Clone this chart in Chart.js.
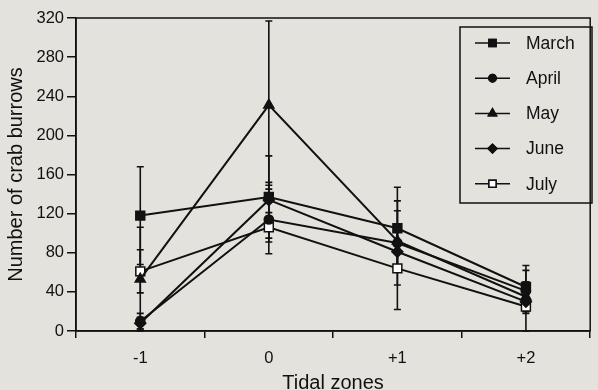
<!DOCTYPE html>
<html>
<head>
<meta charset="utf-8">
<script src="https://cdn.jsdelivr.net/npm/chart.js@4.4.0/dist/chart.umd.min.js"></script>
<style>
  html, body { margin: 0; padding: 0; background: #e3e2dc; }
  #wrap { width: 598px; height: 390px; position: relative; }
</style>
</head>
<body>
<div id="wrap"><canvas id="c" width="598" height="390"></canvas></div>
<script>
const categories = ['-1', '0', '+1', '+2'];
const yTicks = [0, 40, 80, 120, 160, 200, 240, 280, 320];

const march = [118, 137, 105, 45];
const marchSD = [50, 42, 42, 22];
const april = [10, 114, 90, 41];
const aprilSD = [8, 35, 43, 21];
const may = [53, 231, 92, 35];
const maySD = [53, 86, 31, 15];
const june = [8, 134, 81, 30];
const juneSD = [6, 18, 20, 12];
const july = [61, 106, 64, 25];
const julySD = [22, 15, 42, 25];

const FONT = '"Liberation Sans", Arial, sans-serif';
const INK = '#111111';

function ds(label, data, sd, style, radius, fill) {
  return {
    label, data, sd,
    borderColor: INK, borderWidth: 2,
    pointStyle: style, pointRadius: radius, pointHoverRadius: radius,
    pointBackgroundColor: fill, pointBorderColor: INK, pointBorderWidth: 1.5,
    tension: 0, fill: false
  };
}

const errorBars = {
  id: 'errorBars',
  beforeDatasetsDraw(chart) {
    const ctx = chart.ctx, y = chart.scales.y;
    ctx.save();
    ctx.strokeStyle = INK; ctx.lineWidth = 1.6;
    chart.data.datasets.forEach((d, i) => {
      const meta = chart.getDatasetMeta(i);
      meta.data.forEach((pt, j) => {
        const hi = y.getPixelForValue(Math.min(d.data[j] + d.sd[j], 320));
        const lo = y.getPixelForValue(Math.max(d.data[j] - d.sd[j], 0));
        ctx.beginPath();
        ctx.moveTo(pt.x, hi); ctx.lineTo(pt.x, lo);
        ctx.moveTo(pt.x - 3.5, hi); ctx.lineTo(pt.x + 3.5, hi);
        ctx.moveTo(pt.x - 3.5, lo); ctx.lineTo(pt.x + 3.5, lo);
        ctx.stroke();
      });
    });
    ctx.restore();
  }
};

const frameLegend = {
  id: 'frameLegend',
  afterDraw(chart) {
    const ctx = chart.ctx, a = chart.chartArea;
    ctx.save();
    ctx.strokeStyle = INK; ctx.lineWidth = 1.5;
    ctx.strokeRect(a.left, a.top, a.right - a.left, a.bottom - a.top);
    // legend box
    const bx = 460, by = 27, bw = 132, bh = 176;
    ctx.strokeRect(bx, by, bw, bh);
    ctx.font = '17.5px ' + FONT;
    ctx.textBaseline = 'middle';
    ctx.fillStyle = INK;
    chart.data.datasets.forEach((d, i) => {
      const yy = 43 + i * 35.2;
      ctx.beginPath(); ctx.lineWidth = 1.5;
      ctx.moveTo(475, yy); ctx.lineTo(510, yy); ctx.stroke();
      ctx.fillStyle = d.pointBackgroundColor;
      Chart.helpers.drawPoint(ctx, { pointStyle: d.pointStyle, radius: d.pointRadius * 0.8, rotation: 0, borderWidth: 1.2 }, 492.5, yy);
      ctx.fill(); ctx.stroke();
      ctx.fillStyle = INK;
      ctx.fillText(d.label, 526, yy + 1);
    });
    ctx.restore();
  }
};

new Chart(document.getElementById('c'), {
  type: 'line',
  data: {
    labels: categories,
    datasets: [
      ds('March', march, marchSD, 'rect', 6.3, INK),
      ds('April', april, aprilSD, 'circle', 4.6, INK),
      ds('May', may, maySD, 'triangle', 5.8, INK),
      ds('June', june, juneSD, 'rectRot', 5.5, INK),
      ds('July', july, julySD, 'rect', 6.3, '#ffffff')
    ]
  },
  options: {
    responsive: false, animation: false, devicePixelRatio: 1,
    layout: { padding: { top: 18, right: 2, left: 0, bottom: 0 } },
    plugins: { legend: { display: false }, tooltip: { enabled: false } },
    scales: {
      x: {
        type: 'category', offset: true,
        grid: { display: true, offset: true, drawOnChartArea: false, tickLength: 7, color: INK, lineWidth: 1.5 },
        border: { display: true, color: INK, width: 1.5 },
        ticks: { font: { size: 16.5, family: FONT }, color: INK, padding: 11, maxRotation: 0 },
        title: { display: true, text: 'Tidal zones', font: { size: 20, family: FONT, lineHeight: 1 }, color: INK, padding: { top: 0, bottom: -3 } },
        afterFit(s) { s.height = 59; }
      },
      y: {
        min: 0, max: 320,
        afterBuildTicks(s) { s.ticks = yTicks.map(v => ({ value: v })); },
        grid: { display: true, drawOnChartArea: false, tickLength: 9, color: INK, lineWidth: 1.5 },
        border: { display: true, color: INK, width: 1.5 },
        ticks: { font: { size: 16.5, family: FONT }, color: INK, padding: 3 },
        title: { display: true, text: 'Number of crab burrows', font: { size: 20, family: FONT, lineHeight: 1.2 }, color: INK, padding: { top: 4, bottom: 0 } },
        afterFit(s) { s.width = 76; }
      }
    }
  },
  plugins: [errorBars, frameLegend]
});
</script>
</body>
</html>
